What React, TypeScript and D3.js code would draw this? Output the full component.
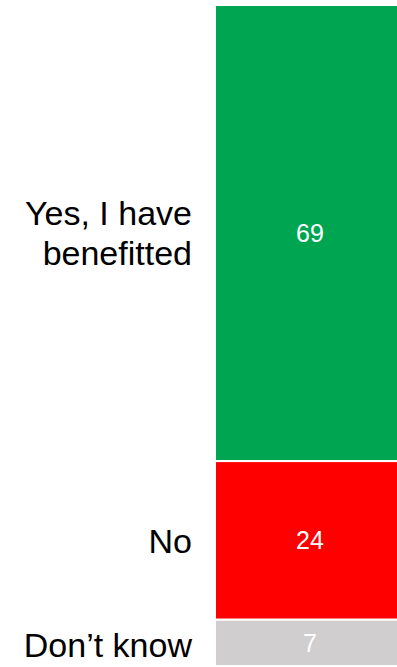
import React from "react";
import * as d3 from "d3";

const categories = ["Yes, I have benefitted", "No", "Don\u2019t know"];
const labelLines = [["Yes, I have", "benefitted"], ["No"], ["Don\u2019t know"]];
const values = [69, 24, 7];
const colors = ["#00A551", "#FF0000", "#D0CECE"];

export default function App() {
  const W = 397, H = 667;
  const y = d3.scaleLinear().domain([0, 100]).range([5, 666]);
  const x0 = 215, x1 = 410;
  let cum = 0;
  const segs = values.map((v, i) => {
    const s = { cat: categories[i], lines: labelLines[i], v, y0: y(cum), y1: y(cum + v), color: colors[i] };
    cum += v;
    return s;
  });
  const font = "'Liberation Sans', Arial, sans-serif";
  const fs = 34;
  const vfs = 25;
  return (
    <svg width={W} height={H} style={{ position: "absolute", left: 0, top: 0, background: "#fff" }}>
      {segs.map((s, i) => {
        const mid = (s.y0 + s.y1) / 2;
        const lh = 40;
        const n = s.lines.length;
        return (
          <g key={s.cat}>
            <rect x={x0} y={s.y0} width={x1 - x0} height={s.y1 - s.y0} fill={s.color} stroke="#fff" strokeWidth={2} />
            <text x={310} y={mid + vfs * 0.716 / 2} textAnchor="middle" fill="#fff" fontFamily={font} fontSize={vfs}>{s.v}</text>
            {s.lines.map((ln, j) => (
              <text key={j} x={192} y={mid + fs * 0.716 / 2 + (j - (n - 1) / 2) * lh + (i === 2 ? 2 : 0)} textAnchor="end" fill="#000" fontFamily={font} fontSize={fs}>{ln}</text>
            ))}
          </g>
        );
      })}
    </svg>
  );
}
